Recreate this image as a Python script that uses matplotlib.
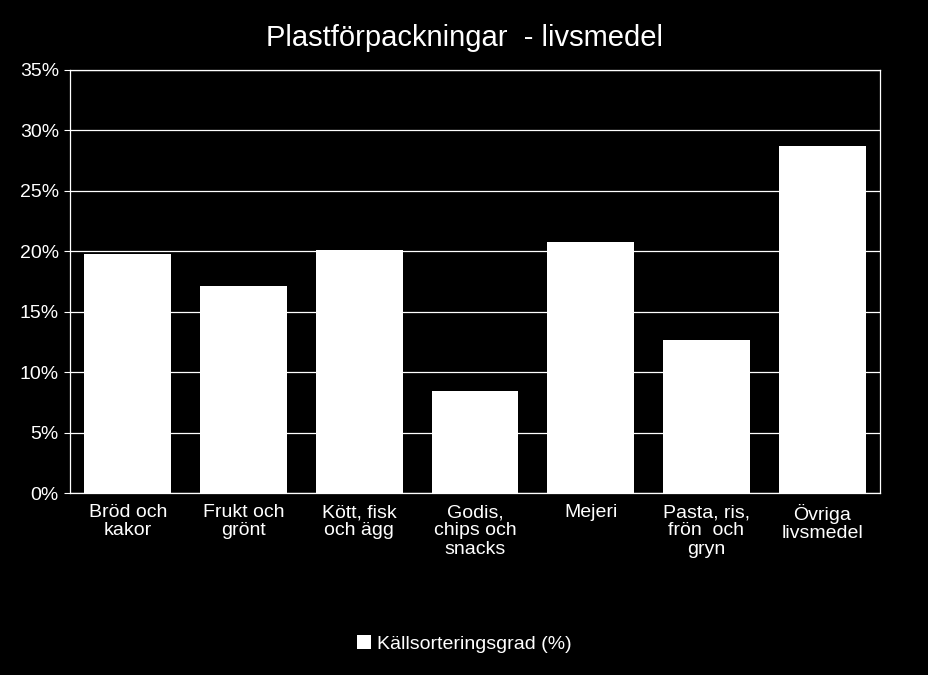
import matplotlib
matplotlib.use('Agg')
import matplotlib.pyplot as plt
import numpy as np

categories = ['Bröd och\nkakor', 'Frukt och\ngrönt', 'Kött, fisk\noch ägg', 'Godis,\nchips och\nsnacks',
              'Mejeri', 'Pasta, ris,\nfrön  och\ngryn', 'Övriga\nlivsmedel']
values = [19.8, 17.1, 20.1, 8.4, 20.8, 12.7, 28.7]
yticks = [0, 5, 10, 15, 20, 25, 30, 35]

plt.rcParams['font.family'] = 'Liberation Sans'
fig = plt.figure(figsize=(9.29, 6.75), dpi=100, facecolor='black')
ax = fig.add_axes([70 / 929, 1 - 493 / 675, 810 / 929, 423 / 675], facecolor='black')

x = np.arange(len(categories))
ax.bar(x, values, width=0.75, color='white', zorder=3, label='Källsorteringsgrad (%)')
ax.set_xlim(-0.5, len(categories) - 0.5)
ax.set_ylim(0, 35)
ax.set_yticks(yticks)
ax.set_yticklabels([f'{t}%' for t in yticks], color='white', fontsize=14)
ax.set_xticks(x)
ax.set_xticklabels(categories, color='white', fontsize=14, va='top', linespacing=1.1)
ax.tick_params(axis='x', length=0, pad=8)
ax.tick_params(axis='y', colors='white', length=4, pad=4)
ax.grid(axis='y', color='white', linewidth=0.9, zorder=0)
for s in ax.spines.values():
    s.set_color('white')
    s.set_linewidth(0.9)

fig.text(0.5, 1 - 38 / 675, 'Plastförpackningar  - livsmedel', color='white', fontsize=21,
         ha='center', va='center')
leg = fig.legend(loc='center', bbox_to_anchor=(0.5, 1 - 644 / 675), frameon=False,
                 fontsize=14, handlelength=0.7, handleheight=0.7, handletextpad=0.3)
for t in leg.get_texts():
    t.set_color('white')

fig.savefig('out.png', dpi=100, facecolor='black')
